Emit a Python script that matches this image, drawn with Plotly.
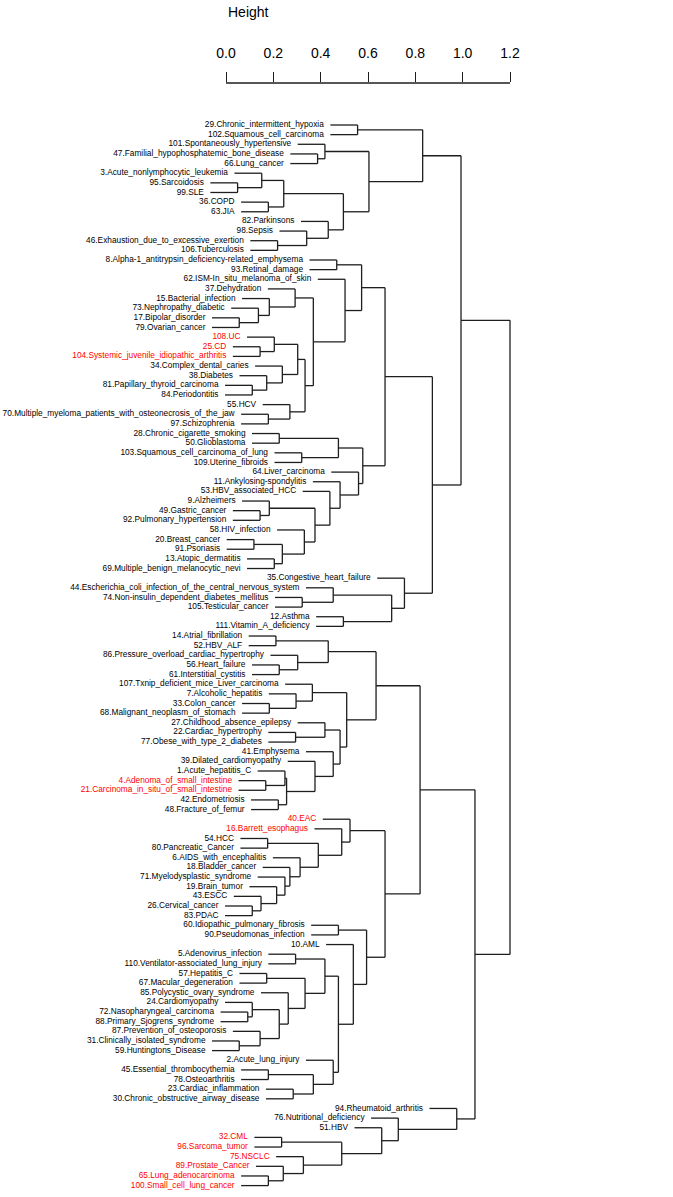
import plotly.graph_objects as go

# ---------------- data ----------------
labels = [
    "29.Chronic_intermittent_hypoxia", "102.Squamous_cell_carcinoma", "101.Spontaneously_hypertensive",
    "47.Familial_hypophosphatemic_bone_disease", "66.Lung_cancer", "3.Acute_nonlymphocytic_leukemia",
    "95.Sarcoidosis", "99.SLE", "36.COPD", "63.JIA", "82.Parkinsons", "98.Sepsis",
    "46.Exhaustion_due_to_excessive_exertion", "106.Tuberculosis",
    "8.Alpha-1_antitrypsin_deficiency-related_emphysema", "93.Retinal_damage",
    "62.ISM-In_situ_melanoma_of_skin", "37.Dehydration", "15.Bacterial_infection",
    "73.Nephropathy_diabetic", "17.Bipolar_disorder", "79.Ovarian_cancer", "108.UC", "25.CD",
    "104.Systemic_juvenile_idiopathic_arthritis", "34.Complex_dental_caries", "38.Diabetes",
    "81.Papillary_thyroid_carcinoma", "84.Periodontitis", "55.HCV",
    "70.Multiple_myeloma_patients_with_osteonecrosis_of_the_jaw", "97.Schizophrenia",
    "28.Chronic_cigarette_smoking", "50.Glioblastoma", "103.Squamous_cell_carcinoma_of_lung",
    "109.Uterine_fibroids", "64.Liver_carcinoma", "11.Ankylosing-spondylitis", "53.HBV_associated_HCC",
    "9.Alzheimers", "49.Gastric_cancer", "92.Pulmonary_hypertension", "58.HIV_infection",
    "20.Breast_cancer", "91.Psoriasis", "13.Atopic_dermatitis", "69.Multiple_benign_melanocytic_nevi",
    "35.Congestive_heart_failure", "44.Escherichia_coli_infection_of_the_central_nervous_system",
    "74.Non-insulin_dependent_diabetes_mellitus", "105.Testicular_cancer", "12.Asthma",
    "111.Vitamin_A_deficiency", "14.Atrial_fibrillation", "52.HBV_ALF",
    "86.Pressure_overload_cardiac_hypertrophy", "56.Heart_failure", "61.Interstitial_cystitis",
    "107.Txnip_deficient_mice_Liver_carcinoma", "7.Alcoholic_hepatitis", "33.Colon_cancer",
    "68.Malignant_neoplasm_of_stomach", "27.Childhood_absence_epilepsy", "22.Cardiac_hypertrophy",
    "77.Obese_with_type_2_diabetes", "41.Emphysema", "39.Dilated_cardiomyopathy", "1.Acute_hepatitis_C",
    "4.Adenoma_of_small_intestine", "21.Carcinoma_in_situ_of_small_intestine", "42.Endometriosis",
    "48.Fracture_of_femur", "40.EAC", "16.Barrett_esophagus", "54.HCC", "80.Pancreatic_Cancer",
    "6.AIDS_with_encephalitis", "18.Bladder_cancer", "71.Myelodysplastic_syndrome", "19.Brain_tumor",
    "43.ESCC", "26.Cervical_cancer", "83.PDAC", "60.Idiopathic_pulmonary_fibrosis",
    "90.Pseudomonas_infection", "10.AML", "5.Adenovirus_infection",
    "110.Ventilator-associated_lung_injury", "57.Hepatitis_C", "67.Macular_degeneration",
    "85.Polycystic_ovary_syndrome", "24.Cardiomyopathy", "72.Nasopharyngeal_carcinoma",
    "88.Primary_Sjogrens_syndrome", "87.Prevention_of_osteoporosis", "31.Clinically_isolated_syndrome",
    "59.Huntingtons_Disease", "2.Acute_lung_injury", "45.Essential_thrombocythemia", "78.Osteoarthritis",
    "23.Cardiac_inflammation", "30.Chronic_obstructive_airway_disease", "94.Rheumatoid_arthritis",
    "76.Nutritional_deficiency", "51.HBV", "32.CML", "96.Sarcoma_tumor", "75.NSCLC",
    "89.Prostate_Cancer", "65.Lung_adenocarcinoma", "100.Small_cell_lung_cancer",
]

highlighted = [
    "108.UC", "25.CD", "104.Systemic_juvenile_idiopathic_arthritis", "4.Adenoma_of_small_intestine",
    "21.Carcinoma_in_situ_of_small_intestine", "40.EAC", "16.Barrett_esophagus", "32.CML",
    "96.Sarcoma_tumor", "75.NSCLC", "89.Prostate_Cancer", "65.Lung_adenocarcinoma",
    "100.Small_cell_lung_cancer",
]

# hclust-style merges: negative = leaf (1-based display position), positive = earlier merge row
merge_left = [
    -1, -4, -3, -7, -6, -9, 5, -13, -12, -11, 7, 3, 1,
    -15, -21, -20, -19, -18, -24, -23, -28, -27, -26, 20, -31, -30, 24, 18, -17, 14,
    -33, -35, 31, -41, -40, -44, -46, 36, -43, 35, -39, -38, -37, 33, 30,
    -50, -49, -52, 47, -48, 45, 13,
    -54, -57, -56, 53, -61, -60, -59, -64, -63, -69, -68, -71, 63, -67, -66, 61, 59, 56,
    -75, -82, -81, -80, -79, -78, -77, 71, -74, -73,
    -84, -87, -89, -93, -92, -96, -95, 85, -91, 83, 82, -99, -101, 92, -98, 91, -86, 81, 80, 70,
    -106, -110, -109, -108, 101, -105, -104, -103, 100, 52,
]
merge_right = [
    -2, -5, 2, -8, 4, -10, 6, -14, 8, 9, 10, 11, 12,
    -16, -22, 15, 16, 17, -25, 19, -29, 21, 22, 23, -32, 25, 26, 27, 28, 29,
    -34, -36, 32, -42, 34, -45, -47, 37, 38, 39, 40, 41, 42, 43, 44,
    -51, 46, -53, 48, 49, 50, 51,
    -55, -58, 54, 55, -62, 57, 58, -65, 60, -70, 62, -72, 64, 65, 66, 67, 68, 69,
    -76, -83, 72, 73, 74, 75, 76, 77, 78, 79,
    -85, -88, -90, -94, 84, -97, 86, 87, 88, 89, 90, -100, -102, 93, 94, 95, 96, 97, 98, 99,
    -107, -111, 102, 103, 104, 105, 106, 107, 108, 109,
]
merge_height = [
    0.556, 0.387, 0.418, 0.049, 0.151, 0.179, 0.244, 0.218, 0.341, 0.432, 0.496, 0.604, 0.831,
    0.468, 0.056, 0.137, 0.183, 0.292, 0.144, 0.204, 0.111, 0.172, 0.238, 0.303, 0.179, 0.270,
    0.334, 0.369, 0.503, 0.573,
    0.225, 0.320, 0.475, 0.144, 0.183, 0.118, 0.204, 0.238, 0.331, 0.376, 0.439, 0.482, 0.560,
    0.578, 0.672,
    0.322, 0.453, 0.496, 0.700, 0.754, 0.872, 0.993,
    0.211, 0.225, 0.303, 0.432, 0.183, 0.296, 0.365, 0.294, 0.418, 0.168, 0.249, 0.221, 0.256,
    0.376, 0.453, 0.482, 0.510, 0.634,
    0.176, 0.111, 0.148, 0.214, 0.249, 0.270, 0.313, 0.390, 0.489, 0.524,
    0.475, 0.294, 0.172, 0.092, 0.111, 0.056, 0.144, 0.225, 0.263, 0.334, 0.418, 0.179, 0.284,
    0.369, 0.453, 0.475, 0.538, 0.594, 0.672, 0.820,
    0.235, 0.179, 0.242, 0.327, 0.489, 0.658, 0.728, 0.975, 1.052, 1.200,
]

tick_values = [0.0, 0.2, 0.4, 0.6, 0.8, 1.0, 1.2]
tick_text = ["0.0", "0.2", "0.4", "0.6", "0.8", "1.0", "1.2"]
axis_title = "Height"

# ---------------- geometry ----------------
n_leaf = len(labels)
hang = 0.1 * (max(merge_height) - min(merge_height))

node_y = {}
leaf_x = [0.0] * (n_leaf + 1)
seg_x, seg_y = [], []


def ypos(ref):
    return float(-ref) if ref < 0 else node_y[ref]


for k, (a, b, h) in enumerate(zip(merge_left, merge_right, merge_height), start=1):
    ya, yb = ypos(a), ypos(b)
    node_y[k] = (ya + yb) / 2.0
    seg_x += [h, h, None]
    seg_y += [ya, yb, None]
    for ref, yy in ((a, ya), (b, yb)):
        if ref < 0:
            x0 = h - hang
            leaf_x[-ref] = x0
        else:
            x0 = merge_height[ref - 1]
        seg_x += [x0, h, None]
        seg_y += [yy, yy, None]

W, H = 673, 1197
px_per_unit = 284.0 / 1.2
x_zero_px = 226.0
top_px = 83
row_px = 9.6418
first_row_px = 125.0
label_gap = 6.5 / px_per_unit

x_range = [-x_zero_px / px_per_unit, (W - x_zero_px) / px_per_unit]
y_top = 1 - (first_row_px - top_px) / row_px
y_bot = y_top + (H - top_px) / row_px

line_col = "#1e1e1e"
fig = go.Figure()
fig.add_trace(go.Scatter(x=seg_x, y=seg_y, mode="lines",
                         line=dict(color=line_col, width=1.3),
                         hoverinfo="skip", showlegend=False))

label_colors = ["#ff0000" if lab in highlighted else "#000000" for lab in labels]
fig.add_trace(go.Scatter(
    x=[leaf_x[i] - label_gap for i in range(1, n_leaf + 1)],
    y=list(range(1, n_leaf + 1)),
    mode="text", text=labels, textposition="middle left",
    textfont=dict(family="Liberation Sans, Arial, sans-serif", size=8.3, color=label_colors),
    hoverinfo="skip", showlegend=False, cliponaxis=False))

fig.update_layout(
    width=W, height=H,
    margin=dict(l=0, r=0, t=top_px, b=0),
    paper_bgcolor="white", plot_bgcolor="white",
    font=dict(family="Liberation Sans, Arial, sans-serif", color="black"),
    xaxis=dict(domain=[0, 1], range=x_range, side="top", showline=False,
               ticks="outside", ticklen=10, tickwidth=1.3, tickcolor=line_col,
               ticklabelstandoff=8,
               tickvals=tick_values, ticktext=tick_text, tickfont=dict(size=14, color="black"),
               showgrid=False, zeroline=False, fixedrange=True),
    yaxis=dict(range=[y_bot, y_top], visible=False, fixedrange=True),
    shapes=[dict(type="line", xref="x", yref="paper", x0=tick_values[0], x1=tick_values[-1],
                 y0=1, y1=1, line=dict(color=line_col, width=1.3))],
    annotations=[dict(text=axis_title, xref="paper", yref="paper", x=248 / W,
                      y=1 + (top_px - 12) / (H - top_px), xanchor="center", yanchor="middle",
                      showarrow=False, font=dict(size=14, color="black"))],
)

fig.write_html("out.html", config={"displayModeBar": False},
               post_script="document.body.style.margin='0';")
